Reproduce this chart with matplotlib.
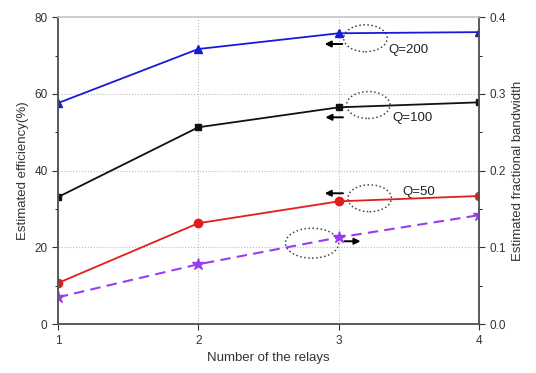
import matplotlib.pyplot as plt
from matplotlib.patches import Ellipse

plt.rcParams['font.family'] = ['Liberation Sans', 'DejaVu Sans']

relays = [1, 2, 3, 4]
eff_q200 = [57.6, 71.7, 75.8, 76.1]
eff_q100 = [33.1, 51.3, 56.5, 57.8]
eff_q50 = [10.7, 26.3, 32.0, 33.4]
frac_bw = [0.035, 0.078, 0.113, 0.142]

fig = plt.figure(figsize=(5.36, 3.73), dpi=100)
ax = fig.add_axes([0.108, 0.131, 0.786, 0.823])
ax2 = ax.twinx()

ax.plot(relays, eff_q200, color='#1a1ad6', marker='^', markersize=6, lw=1.3)
ax.plot(relays, eff_q100, color='#111111', marker='s', markersize=5, lw=1.3)
ax.plot(relays, eff_q50, color='#e21d1d', marker='o', markersize=6, lw=1.3)
ax2.plot(relays, frac_bw, color='#9a3cf0', marker='*', markersize=9, lw=1.5,
         ls=(0, (5, 3)))

ax.set_xlim(1, 4)
ax.set_ylim(0, 80)
ax2.set_ylim(0, 0.4)
ax.set_xticks(relays)
ax.set_yticks([0, 20, 40, 60, 80])
ax.set_yticks([10, 30, 50, 70], minor=True)
ax2.set_yticks([0.0, 0.1, 0.2, 0.3, 0.4])
ax2.set_yticklabels(['0.0', '0.1', '0.2', '0.3', '0.4'])
ax2.set_yticks([0.05, 0.15, 0.25, 0.35], minor=True)
ax.grid(True, ls=':', color='#bbbbbb', lw=0.8)

for a in (ax, ax2):
    a.tick_params(labelsize=8.5, colors='#333333', length=4)
    a.tick_params(which='minor', length=2.5)
    for s in a.spines.values():
        s.set_color('#555555')
        s.set_linewidth(1.1)
    a.spines['top'].set_color('#cccccc')

ax.set_xlabel('Number of the relays', fontsize=9.5, color='#333333')
ax.set_ylabel('Estimated efficiency(%)', fontsize=9.5, color='#333333')
ax2.set_ylabel('Estimated fractional bandwidth', fontsize=9.5, color='#333333')

# annotations: ellipses, arrows and Q labels
ells = [(3.19, 74.5, 0.31, 7.0), (3.21, 57.1, 0.31, 7.0),
        (3.22, 32.8, 0.31, 7.0), (2.81, 21.1, 0.38, 7.8)]
for cx, cy, w, h in ells:
    ax.add_patch(Ellipse((cx, cy), w, h, fill=False, ls=':', lw=1.1,
                         ec='#444444'))

arrows = [((3.045, 73.0), (2.88, 73.0)), ((3.05, 53.9), (2.885, 53.9)),
          ((3.05, 34.1), (2.88, 34.1)), ((3.02, 21.6), (3.175, 21.6))]
for start, end in arrows:
    ax.annotate('', xy=end, xytext=start,
                arrowprops=dict(arrowstyle='-|>', color='black', lw=1.4,
                                mutation_scale=9))

ax.text(3.35, 71.4, 'Q=200', fontsize=9.5, va='center', color='#222222')
ax.text(3.38, 53.7, 'Q=100', fontsize=9.5, va='center', color='#222222')
ax.text(3.45, 34.4, 'Q=50', fontsize=9.5, va='center', color='#222222')

fig.savefig('out.png', dpi=100)
